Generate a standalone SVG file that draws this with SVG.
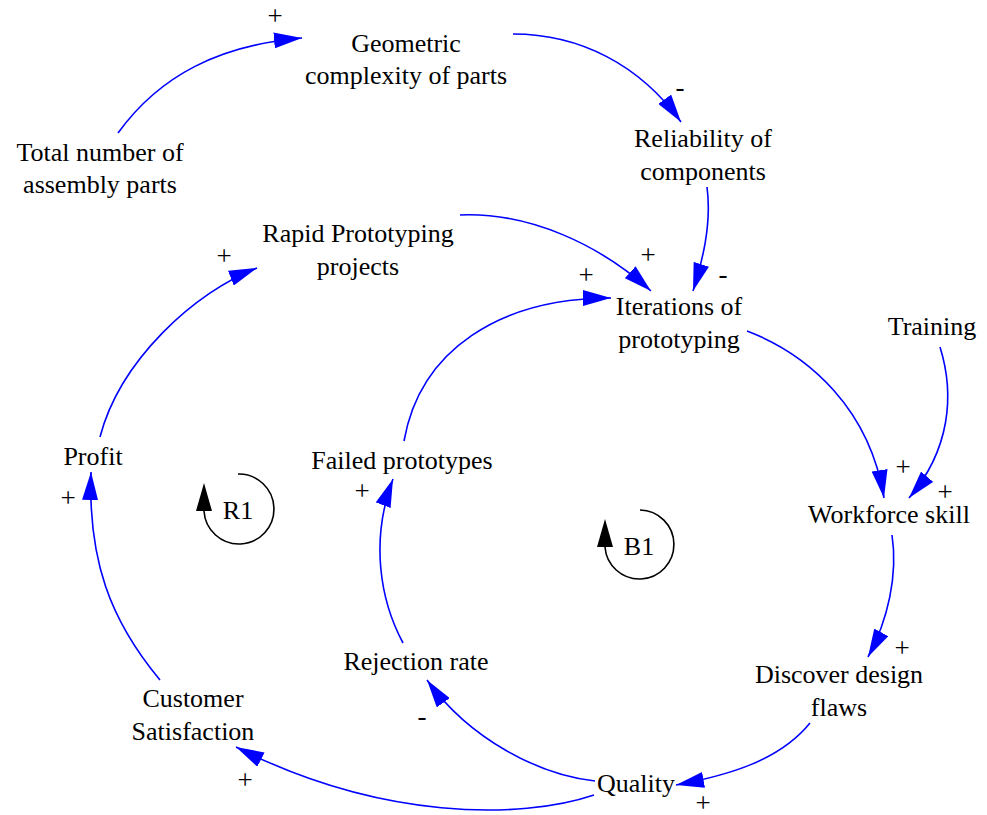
<svg xmlns="http://www.w3.org/2000/svg" width="987" height="815" viewBox="0 0 987 815">
<style>
.t{font-family:"Liberation Serif","Times New Roman",serif;font-size:26px;fill:#000;text-anchor:middle}
.s{font-family:"Liberation Serif","Times New Roman",serif;font-size:27px;fill:#000;text-anchor:middle}
.c{fill:none;stroke:#0000FF;stroke-width:1.6;marker-end:url(#ah)}
.loop{fill:none;stroke:#000;stroke-width:1.6}
</style>
<defs>
<marker id="ah" markerUnits="userSpaceOnUse" markerWidth="28" markerHeight="16" refX="28" refY="8" orient="auto" viewBox="0 0 28 16">
<path d="M0,0 L28,8 L0,16 z" fill="#0000FF"/>
</marker>
</defs>
<rect width="987" height="815" fill="#fff"/>
<g id="connectors">
<path class="c" d="M118,133 C160,75 220,45 302,38"/>
<path class="c" d="M513,34 C580,34 640,65 681,122"/>
<path class="c" d="M707,187 C712,225 702,262 693,291"/>
<path class="c" d="M460,215 C530,212 600,245 651,291"/>
<path class="c" d="M404,441 C420,350 500,298 611,298"/>
<path class="c" d="M100,437 C120,360 195,292 257,268"/>
<path class="c" d="M160,680 C110,620 88,560 91,472"/>
<path class="c" d="M403,643 C380,600 370,540 393,479"/>
<path class="c" d="M595,781 C540,775 470,740 427,680"/>
<path class="c" d="M594,795 C520,820 380,820 236,747"/>
<path class="c" d="M810,723 C780,760 730,775 676,785"/>
<path class="c" d="M892,535 C898,575 888,620 868,657"/>
<path class="c" d="M747,331 C810,355 870,410 884,498"/>
<path class="c" d="M940,347 C955,395 950,450 909,498"/>
<text class="s" x="275" y="25">+</text>
<text class="s" x="680" y="96">-</text>
<text class="s" x="723" y="283">-</text>
<text class="s" x="648" y="264">+</text>
<text class="s" x="586" y="284">+</text>
<text class="s" x="224" y="265">+</text>
<text class="s" x="68" y="507">+</text>
<text class="s" x="362" y="500">+</text>
<text class="s" x="422" y="725">-</text>
<text class="s" x="245" y="789">+</text>
<text class="s" x="703" y="812">+</text>
<text class="s" x="902" y="657">+</text>
<text class="s" x="903" y="476">+</text>
<text class="s" x="945" y="501">+</text>
</g>
<g id="geometric-complexity"><text class="t" x="406" y="52">Geometric</text><text class="t" x="406" y="84">complexity of parts</text></g>
<g id="total-number"><text class="t" x="100" y="161">Total number of</text><text class="t" x="100" y="193">assembly parts</text></g>
<g id="reliability"><text class="t" x="703" y="147">Reliability of</text><text class="t" x="703" y="180">components</text></g>
<g id="rapid-prototyping"><text class="t" x="358" y="242">Rapid Prototyping</text><text class="t" x="358" y="275">projects</text></g>
<g id="iterations"><text class="t" x="679" y="315">Iterations of</text><text class="t" x="679" y="348">prototyping</text></g>
<g id="training"><text class="t" x="932" y="335">Training</text></g>
<g id="workforce-skill"><text class="t" x="889" y="523">Workforce skill</text></g>
<g id="discover-design-flaws"><text class="t" x="839" y="683">Discover design</text><text class="t" x="839" y="716">flaws</text></g>
<g id="quality"><text class="t" x="636" y="792">Quality</text></g>
<g id="rejection-rate"><text class="t" x="416" y="670">Rejection rate</text></g>
<g id="customer-satisfaction"><text class="t" x="193" y="707">Customer</text><text class="t" x="193" y="740">Satisfaction</text></g>
<g id="profit"><text class="t" x="93" y="465">Profit</text></g>
<g id="failed-prototypes"><text class="t" x="402" y="469">Failed prototypes</text></g>
<g id="loop-R1">
<path class="loop" d="M238,474 A35,35 0 1 1 204,511"/>
<polygon points="204,483 196,511 212,511" fill="#000"/>
<text class="t" x="238" y="519">R1</text>
</g>
<g id="loop-B1">
<path class="loop" d="M640,510 A34.5,34.5 0 1 1 605,547"/>
<polygon points="605,519 597,547 613,547" fill="#000"/>
<text class="t" x="639" y="555">B1</text>
</g>
</svg>
